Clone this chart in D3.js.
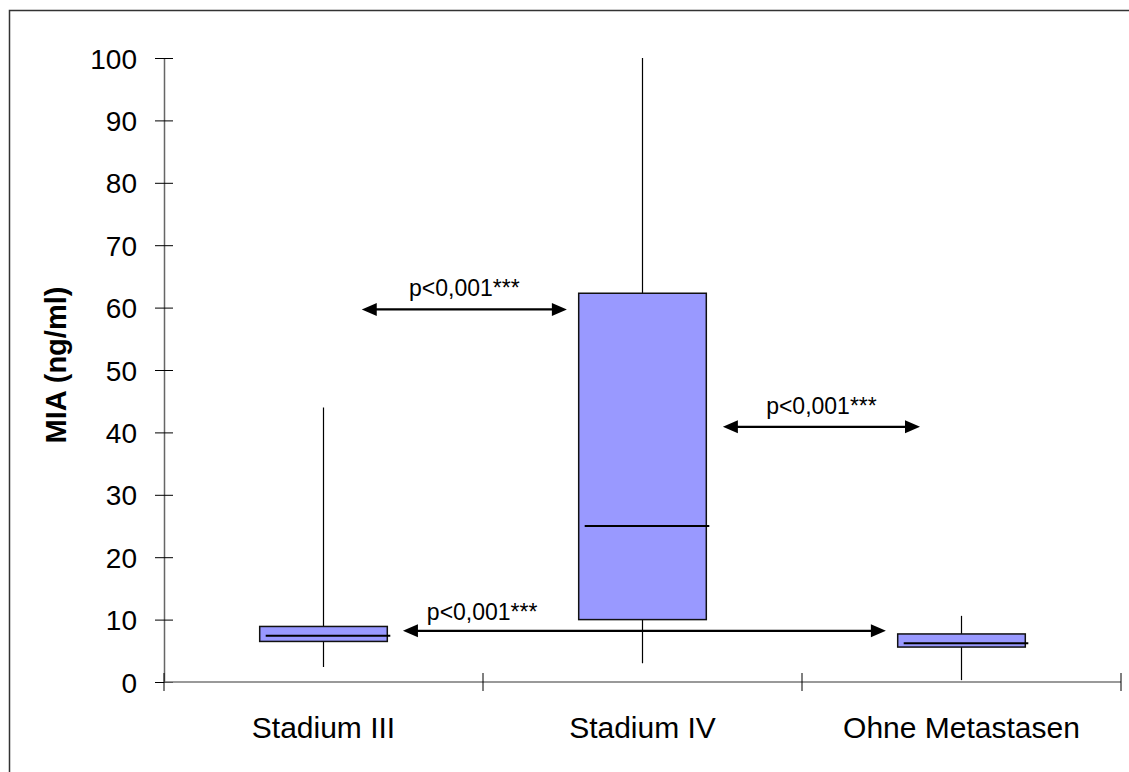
<!DOCTYPE html>
<html>
<head>
<meta charset="utf-8">
<script src="https://cdn.jsdelivr.net/npm/d3@7"></script>
<style>
  html, body { margin: 0; padding: 0; background: #fff; }
  svg { display: block; font-family: "Liberation Sans", Arial, sans-serif; }
</style>
</head>
<body>
<svg id="chart" width="1129" height="772"></svg>
<script>
// ---- data ----
const categories = ["Stadium III", "Stadium IV", "Ohne Metastasen"];
const whiskerLow  = [2.4, 3.0, 0.3];
const q1Values    = [6.5, 10.0, 5.6];
const medians     = [7.4, 25.0, 6.2];
const q3Values    = [8.9, 62.3, 7.7];
const whiskerHigh = [44.0, 100.0, 10.6];
const yTicks = [0, 10, 20, 30, 40, 50, 60, 70, 80, 90, 100];
const yLabel = "MIA (ng/ml)";
// significance arrows: start/end on a category-index axis (0..3), y value, label start
const compLabels = ["p<0,001***", "p<0,001***", "p<0,001***"];
const compFrom   = [0.62, 1.752, 0.749];
const compTo     = [1.263, 2.37, 2.263];
const compY      = [59.7, 40.9, 8.2];
const compLabelX = [null, null, 0.824];

// ---- layout ----
const svg = d3.select("#chart");
const mLeft = 164, mRight = 1121, mTop = 58, mBottom = 682;

// frame
svg.append("rect").attr("x", 9.5).attr("y", 10.5).attr("width", 1200).attr("height", 800)
  .attr("fill", "none").attr("stroke", "#333").attr("stroke-width", 1.5);

const y = d3.scaleLinear().domain([0, 100]).range([mBottom, mTop]);
const xBand = d3.scaleBand().domain(categories).range([mLeft, mRight]).padding(0);
const xIdx = d3.scaleLinear().domain([0, categories.length]).range([mLeft, mRight]);

// y axis
const yAxis = svg.append("g").attr("transform", `translate(${mLeft},0)`)
  .call(d3.axisLeft(y).tickValues(yTicks).tickSizeInner(9).tickSizeOuter(0).tickPadding(18));
yAxis.select(".domain").attr("stroke", "#666").attr("stroke-width", 1.5);
yAxis.selectAll(".tick line").attr("x2", 9).attr("x1", -9).attr("stroke", "#000");
yAxis.selectAll(".tick text").attr("font-size", 28).attr("fill", "#000")
  .attr("x", -27).attr("dy", "0.36em")
  .style("font-family", "'Liberation Sans', Arial, sans-serif");

// x axis
const xAxis = svg.append("g").attr("transform", `translate(0,${mBottom})`);
xAxis.append("line").attr("x1", mLeft).attr("x2", mRight).attr("y1", 0).attr("y2", 0)
  .attr("stroke", "#777").attr("stroke-width", 1.5);
const boundaries = d3.range(categories.length + 1);
xAxis.selectAll("line.tk").data(boundaries).join("line").attr("class", "tk")
  .attr("x1", d => xIdx(d)).attr("x2", d => xIdx(d)).attr("y1", -9).attr("y2", 9)
  .attr("stroke", "#000").attr("stroke-width", 1);
xAxis.selectAll("text").data(categories).join("text")
  .attr("x", d => xBand(d) + xBand.bandwidth() / 2).attr("y", 56)
  .attr("text-anchor", "middle").attr("font-size", 30).attr("fill", "#000")
  .text(d => d);

// y label
svg.append("text").attr("transform", `translate(66,365) rotate(-90)`)
  .attr("text-anchor", "middle").attr("font-size", 29).attr("font-weight", "bold")
  .attr("fill", "#000").text(yLabel);

// boxes
const boxW = xBand.bandwidth() * 0.4;
const g = svg.append("g");
categories.forEach((c, i) => {
  const cx = xBand(c) + xBand.bandwidth() / 2;
  g.append("line").attr("x1", cx).attr("x2", cx)
    .attr("y1", y(whiskerLow[i])).attr("y2", y(whiskerHigh[i]))
    .attr("stroke", "#000").attr("stroke-width", 1.2);
  g.append("rect").attr("x", cx - boxW / 2).attr("width", boxW)
    .attr("y", y(q3Values[i])).attr("height", y(q1Values[i]) - y(q3Values[i]))
    .attr("fill", "#9999FF").attr("stroke", "#111").attr("stroke-width", 1.5);
  g.append("line").attr("x1", cx - boxW / 2 + 6).attr("x2", cx + boxW / 2 + 3)
    .attr("y1", y(medians[i])).attr("y2", y(medians[i]))
    .attr("stroke", "#000").attr("stroke-width", 2);
});

// arrows
const ah = 15, aw = 6.5;
compLabels.forEach((lab, i) => {
  const x1 = xIdx(compFrom[i]), x2 = xIdx(compTo[i]), yy = y(compY[i]);
  const ga = svg.append("g");
  ga.append("line").attr("x1", x1 + ah - 2).attr("x2", x2 - ah + 2).attr("y1", yy).attr("y2", yy)
    .attr("stroke", "#000").attr("stroke-width", 2.2);
  ga.append("path").attr("d", `M${x1},${yy} L${x1 + ah},${yy - aw} L${x1 + ah},${yy + aw} Z`).attr("fill", "#000");
  ga.append("path").attr("d", `M${x2},${yy} L${x2 - ah},${yy - aw} L${x2 - ah},${yy + aw} Z`).attr("fill", "#000");
  const t = ga.append("text").attr("font-size", 23).attr("fill", "#000").attr("y", yy - 13);
  if (compLabelX[i] === null) {
    t.attr("x", (x1 + x2) / 2).attr("text-anchor", "middle");
  } else {
    t.attr("x", xIdx(compLabelX[i])).attr("text-anchor", "start").attr("y", yy - 11);
  }
  t.text(lab);
});
</script>
</body>
</html>
